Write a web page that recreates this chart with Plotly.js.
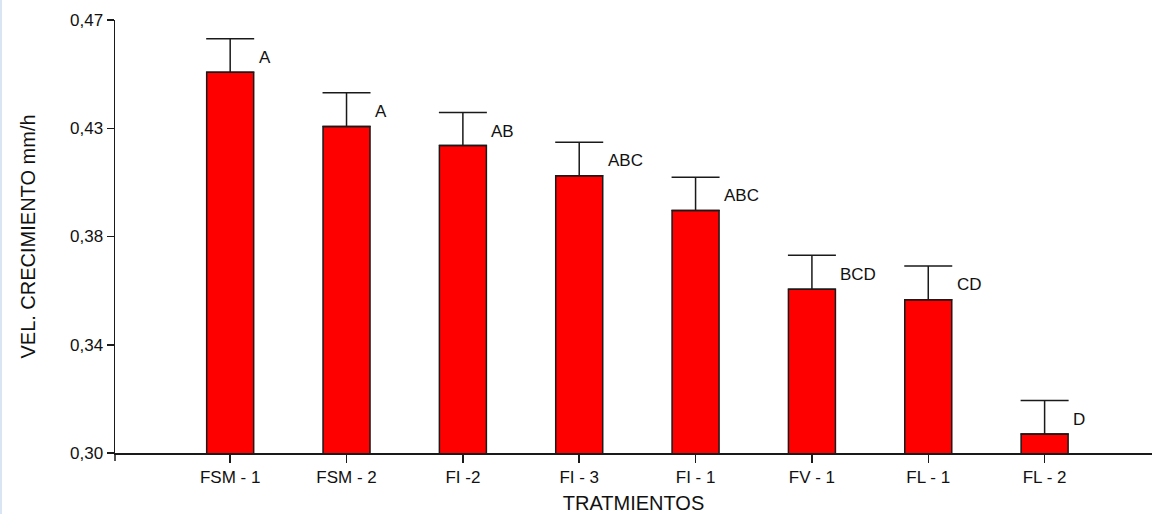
<!DOCTYPE html>
<html>
<head>
<meta charset="utf-8">
<script src="https://cdn.plot.ly/plotly-3.0.1.min.js"></script>
<style>
  html, body { margin: 0; padding: 0; background: #ffffff; }
  #wrap { width: 1153px; height: 514px; box-sizing: border-box; border-left: 2px solid #d9e5f3; }
  #chart { width: 1151px; height: 514px; }
</style>
</head>
<body>
<div id="wrap"><div id="chart"></div></div>
<script>
// Data
const categories = ["FSM - 1", "FSM - 2", "FI -2", "FI - 3", "FI - 1", "FV - 1", "FL - 1", "FL - 2"];
const growthRate = [0.4495, 0.4282, 0.4207, 0.4089, 0.3952, 0.3643, 0.3602, 0.3075];
const errorUp   = [0.0131, 0.0132, 0.0130, 0.0131, 0.0131, 0.0133, 0.0132, 0.0131];
const groupLetters = ["A", "A", "AB", "ABC", "ABC", "BCD", "CD", "D"];
const yTickVals = [0.30, 0.3425, 0.385, 0.4275, 0.47];
const yTickText = ["0,30", "0,34", "0,38", "0,43", "0,47"];

const xIdx = categories.map((_, i) => i);
const textColor = "#111111";
const fontFam = "Liberation Sans, Arial, sans-serif";

const trace = {
  type: "bar",
  x: xIdx,
  y: growthRate,
  width: 0.404,
  marker: { color: "#ff0000", line: { color: "#1a1a1a", width: 1.5 } },
  error_y: {
    type: "data",
    symmetric: false,
    array: errorUp,
    arrayminus: errorUp.map(() => 0),
    color: "#1a1a1a",
    thickness: 1.5,
    width: 24
  },
  hoverinfo: "x+y"
};

const annotations = groupLetters.map((t, i) => ({
  x: xIdx[i] + 0.202,
  y: growthRate[i] + errorUp[i] / 2,
  xref: "x", yref: "y",
  text: t,
  showarrow: false,
  xanchor: "left",
  yanchor: "middle",
  xshift: 3,
  yshift: -2,
  font: { family: fontFam, size: 17, color: textColor }
}));

const layout = {
  width: 1151,
  height: 514,
  margin: { l: 112.5, r: 1, t: 20, b: 61.3 },
  paper_bgcolor: "#ffffff",
  plot_bgcolor: "#ffffff",
  showlegend: false,
  font: { family: fontFam, color: textColor },
  xaxis: {
    range: [-0.99, 7.923],
    tickvals: xIdx,
    ticktext: categories,
    ticks: "outside",
    ticklen: 8,
    tickwidth: 1.5,
    tickcolor: "#1a1a1a",
    showline: true,
    linecolor: "#1a1a1a",
    linewidth: 1.5,
    showgrid: false,
    zeroline: false,
    tickfont: { family: fontFam, size: 17, color: textColor },
    title: { text: "TRATMIENTOS", font: { family: fontFam, size: 20, color: textColor }, standoff: 12 }
  },
  yaxis: {
    range: [0.30, 0.47],
    tickvals: yTickVals,
    ticktext: yTickText,
    ticks: "outside",
    ticklen: 7,
    tickwidth: 1.5,
    tickcolor: "#1a1a1a",
    showline: true,
    linecolor: "#1a1a1a",
    linewidth: 1.5,
    showgrid: false,
    zeroline: false,
    tickfont: { family: fontFam, size: 17, color: textColor },
    title: { text: "VEL. CRECIMIENTO mm/h", font: { family: fontFam, size: 20, color: textColor }, standoff: 29 }
  },
  shapes: [{
    type: "line", xref: "paper", yref: "paper",
    x0: 0, x1: 0, y0: 0, y1: -8 / 432.7,
    line: { color: "#1a1a1a", width: 1.5 }
  }],
  annotations: annotations
};

Plotly.newPlot("chart", [trace], layout, { displayModeBar: false, staticPlot: true });
</script>
</body>
</html>
